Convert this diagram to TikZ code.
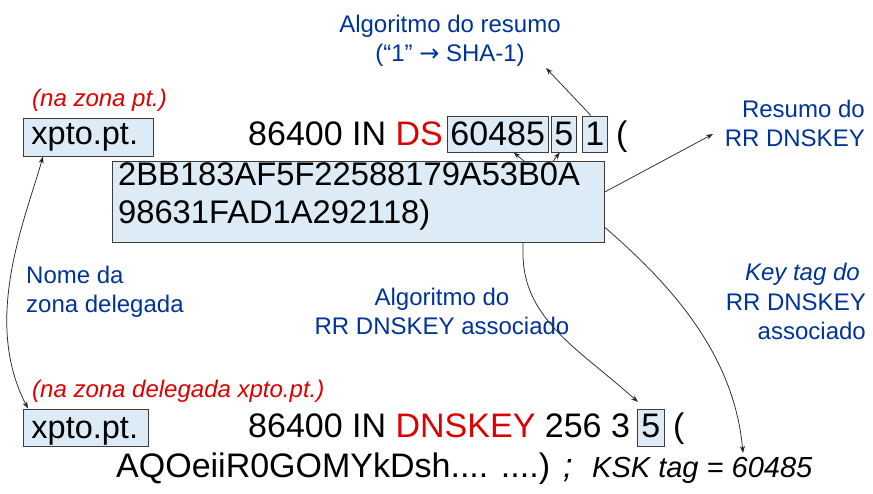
\documentclass[tikz,border=0pt]{standalone}
\usepackage{fontspec}
\setmainfont{Liberation Sans}
\newfontfamily\symfont{DejaVu Sans}
\usetikzlibrary{arrows.meta,calc}
\definecolor{lblue}{RGB}{0,51,153}
\definecolor{dred}{RGB}{220,0,0}
\definecolor{boxfill}{RGB}{221,235,247}
\definecolor{boxline}{RGB}{60,60,60}
\definecolor{lineclr}{RGB}{40,40,40}
\tikzset{
  bigtxt/.style={font=\fontsize{34}{40}\selectfont, inner sep=0pt},
  hextxt/.style={font=\fontsize{32.7}{38}\selectfont, inner sep=0pt},
  kbox/.style={draw=boxline, fill=boxfill, line width=0.9pt},
  dsbox/.style={kbox, font=\fontsize{34}{40}\selectfont, inner xsep=3pt, inner ysep=0pt, text height=29.5pt, text depth=6.5pt},
  namebox/.style={kbox, font=\fontsize{32.5}{38}\selectfont, inner xsep=8pt, inner ysep=0pt},
  lbl/.style={text=lblue, font=\fontsize{24}{29.5}\selectfont, inner sep=0pt},
  note/.style={text=dred, font=\fontsize{24}{29.5}\selectfont\itshape, inner sep=0pt},
  conn/.style={draw=lineclr, line width=0.75pt, -{Stealth[length=7pt,width=5pt]}},
  biconn/.style={draw=lineclr, line width=0.75pt, {Stealth[length=7pt,width=5pt]}-{Stealth[length=7pt,width=5pt]}},
}
\begin{document}
\begin{tikzpicture}[x=1pt,y=-1pt]
\useasboundingbox (0,0) rectangle (873,494);

% labels (base anchor = baseline of the last line)
\node[lbl, align=center, anchor=base] (algres) at (450,62) {Algoritmo do resumo\\(“1” {\symfont →} SHA-1)};
\node[lbl, align=right, anchor=base east] (resumo) at (865,147) {Resumo do\\RR DNSKEY};
\node[note, anchor=base west] (note1) at (32,107) {(na zona pt.)};
\node[lbl, align=left, anchor=base west] (nome) at (26,313) {Nome da\\zona delegada};
\node[lbl, align=center, anchor=base] (algkey) at (442,335) {Algoritmo do\\RR DNSKEY associado};
\node[lbl, align=right, anchor=base east] (keytag) at (866,340) {\textit{Key tag do}\hspace*{6pt}\\RR DNSKEY\hspace*{7pt}\\associado};
\node[note, anchor=base west] (note2) at (32,397) {(na zona delegada xpto.pt.)};

% row 1 (DS record)
\node[namebox, text height=27pt, text depth=11pt, anchor=base west] (xp1) at (23,145) {\makebox[114pt][l]{xpto.pt.}};
\node[bigtxt, anchor=base west] (rr1) at (248,145.5) {86400 IN \textcolor{dred}{DS}};
\node[dsbox, anchor=base west] (tag) at (447,145.5) {60485};
\node[dsbox, anchor=base west] (alg) at (551,145.5) {5};
\node[dsbox, anchor=base west] (dig) at (582,145.5) {1};
\node[bigtxt, anchor=base west] (par1) at (616,145.5) {(};

% DNSKEY record
\node[namebox, text height=29pt, text depth=8pt, anchor=base west] (xp2) at (23,438) {\makebox[109pt][l]{xpto.pt.}};
\node[bigtxt, anchor=base west] (rr2) at (248,437) {86400 IN \textcolor{dred}{DNSKEY} 256 3};
\node[dsbox, anchor=base west, text height=28pt, text depth=9.7pt, inner xsep=4pt] (k5) at (637,437) {5};
\node[bigtxt, anchor=base west] (par2) at (673,437) {(};
\node[bigtxt, anchor=base west] (key) at (116,477) {AQOeiiR0GOMYkDsh.... ....)};
\node[bigtxt, anchor=base west] (semi) at (563,477) {\itshape ;};
\node[bigtxt, anchor=base west, font=\fontsize{29}{34}\selectfont\itshape] (ksk) at (592,477) {KSK tag = 60485};

% connectors
\coordinate (algtip) at (546,68);
\coordinate (restip) at (713,134);
\coordinate (ksktip) at (743,453);
\coordinate (k5tip) at (638,402);
\draw[conn] ([xshift=-4pt]dig.north) -- (algtip);
\draw[biconn] ([xshift=20pt]xp1.south west) .. controls (25,220) and (-18,320) .. ([xshift=5pt]xp2.north west);
\draw[biconn] ([xshift=16pt]tag.south) .. controls (600,225) and (730,310) .. (ksktip);
\draw[biconn] ([xshift=-4pt]alg.south) .. controls (530,190) and (522,225) .. (523,255) .. controls (524,320) and (580,350) .. (k5tip);

% digest box (covers the hidden parts of the curves)
\node[kbox, anchor=north west, minimum width=492pt, minimum height=81pt, inner sep=0pt] (digest) at (112,161) {};
\node[hextxt, anchor=base west] (hex1) at (118,186) {2BB183AF5F22588179A53B0A};
\node[hextxt, anchor=base west] (hex2) at (118,224) {98631FAD1A292118)};
\draw[conn] ([yshift=10pt]digest.east) -- (restip);
\end{tikzpicture}
\end{document}
